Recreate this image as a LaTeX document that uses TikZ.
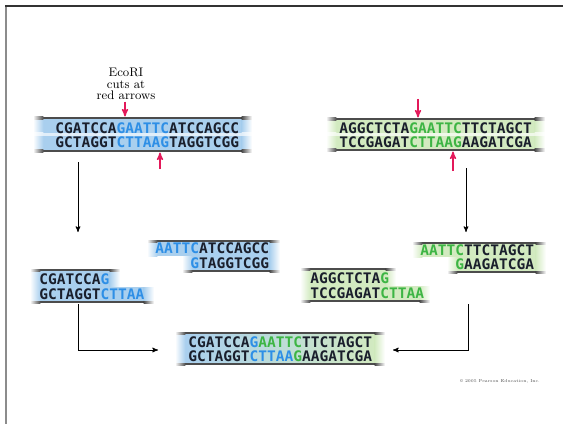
\documentclass[tikz,border=0pt]{standalone}
\usepackage{fontspec}
\newfontfamily\dnafont{DejaVu Sans Mono}
\usetikzlibrary{arrows}
\definecolor{dnaink}{HTML}{1A1F2C}
\definecolor{siteblue}{HTML}{2E8FE6}
\definecolor{sitegreen}{HTML}{3DB544}
\definecolor{bandblue}{HTML}{A9CFEE}
\definecolor{bandgreen}{HTML}{D2EAC0}
\definecolor{cutred}{HTML}{E3195A}
\tikzset{
%Define standard arrow tip
>=stealth',
%Define style for the strands and the arrows
strand/.style={inner sep=0pt, font=\dnafont\bfseries\fontsize{10.9}{10.9}\selectfont, text=dnaink},
cut arrow/.style={->, cutred, line width=1pt},
step arrow/.style={->, black, line width=0.6pt},
}
\newcommand{\siteb}[1]{\textcolor{siteblue}{#1}}
\newcommand{\siteg}[1]{\textcolor{sitegreen}{#1}}
% bar with faded ends: x1, x2, y1, y2, colour
\newcommand{\fadebar}[5]{%
  \fill[#5] ({#1+10},{#3}) rectangle ({#2-10},{#4});
  \shade[left color=white, right color=#5] ({#1},{#3}) rectangle ({#1+10.3},{#4});
  \shade[left color=#5, right color=white] ({#2-10.3},{#3}) rectangle ({#2},{#4});
}
% whole double strand band: x1, x2, y1, y2, colour
\newcommand{\dnaband}[5]{%
  \fadebar{#1}{#2}{#3}{#4}{#5}
  \fadebar{#1}{#2}{(#3+#4)/2-1.5}{(#3+#4)/2+1.5}{#5!35!white}
  \fadebar{#1}{#2}{#3-1}{#3+1.2}{black!70}
  \fadebar{#1}{#2}{#4-1.2}{#4+1}{black!70}
}

\begin{document}
\begin{tikzpicture}[x=0.75pt, y=-0.75pt]
    \useasboundingbox (0,0) rectangle (563,424);

    % frame
    \draw[black!45, line width=1.5pt] (5.5,424) -- (5.5,6);
    \draw[black!80, line width=1.2pt] (5,6) -- (563,6);

    % bands
    \dnaband{33}{252}{118}{151}{bandblue}
    \dnaband{326}{545}{119}{150}{bandgreen}

    % blue fragments
    \fadebar{147}{280}{241}{256}{bandblue}
    \fadebar{182}{280}{256}{271}{bandblue}
    \fadebar{147}{280}{240}{242.2}{black!70}
    \fadebar{182}{280}{270}{272.2}{black!70}
    \fadebar{30}{120}{270}{287}{bandblue}
    \fadebar{30}{154}{287}{302}{bandblue}
    \fadebar{30}{120}{269}{271.2}{black!70}
    \fadebar{30}{154}{301}{303.2}{black!70}

    % green fragments
    \fadebar{412}{546}{243}{257}{bandgreen}
    \fadebar{447}{546}{257}{272}{bandgreen}
    \fadebar{412}{546}{242}{244.2}{black!70}
    \fadebar{447}{546}{271}{273.2}{black!70}
    \fadebar{300}{396}{269}{286}{bandgreen}
    \fadebar{300}{430}{286}{301}{bandgreen}
    \fadebar{300}{396}{268}{270.2}{black!70}
    \fadebar{300}{430}{300}{302.2}{black!70}

    % recombinant band
    \shade[left color=bandblue, right color=bandgreen] (185,333) rectangle (375,364);
    \shade[left color=white, right color=bandblue] (175,333) rectangle (185.3,364);
    \shade[left color=bandgreen, right color=white] (374.7,333) rectangle (385,364);
    \fadebar{175}{385}{332}{334.2}{black!70}
    \fadebar{175}{385}{363}{365.2}{black!70}

    % original strands
    \node[strand, anchor=west] (blueTop) at (55,128) {CGATCCA\siteb{GAATTC}ATCCAGCC};
    \node[strand, anchor=west] (blueBot) at (55,142) {GCTAGGT\siteb{CTTAAG}TAGGTCGG};
    \node[strand, anchor=west] (greenTop) at (339,128) {AGGCTCTA\siteg{GAATTC}TTCTAGCT};
    \node[strand, anchor=west] (greenBot) at (339,142) {TCCGAGAT\siteg{CTTAAG}AAGATCGA};

    % fragments
    \node[strand, anchor=west] (bRtop) at (155,248) {\siteb{AATTC}ATCCAGCC};
    \node[strand, anchor=east] (bRbot) at (bRtop.east |- 0,263) {\siteb{G}TAGGTCGG};
    \node[strand, anchor=west] (bLtop) at (39,279) {CGATCCA\siteb{G}};
    \node[strand, anchor=west] (bLbot) at (39,294) {GCTAGGT\siteb{CTTAA}};
    \node[strand, anchor=west] (gRtop) at (420,250) {\siteg{AATTC}TTCTAGCT};
    \node[strand, anchor=east] (gRbot) at (gRtop.east |- 0,264) {\siteg{G}AAGATCGA};
    \node[strand, anchor=west] (gLtop) at (310,278) {AGGCTCTA\siteg{G}};
    \node[strand, anchor=west] (gLbot) at (310,293) {TCCGAGAT\siteg{CTTAA}};

    % recombinant
    \node[strand, anchor=west] (recTop) at (188,342) {CGATCCA\siteb{G}\siteg{AATTC}TTCTAGCT};
    \node[strand, anchor=west] (recBot) at (188,356) {GCTAGGT\siteb{CTTAA}\siteg{G}AAGATCGA};

    % note
    \node[align=center, font=\fontsize{9.3}{8.7}\selectfont, inner sep=1pt] (note) at (126,84) {EcoRI\\cuts at\\red arrows};

    % red arrows
    \coordinate (cutA) at (125,116.5);
    \coordinate (cutB) at (160,152.5);
    \coordinate (cutC) at (418,117.5);
    \coordinate (cutD) at (453,151.5);
    \draw[cut arrow] (note.south -| cutA) -- (cutA);
    \draw[cut arrow] (160,169) -- (cutB);
    \draw[cut arrow] (418,99) -- (cutC);
    \draw[cut arrow] (453,171) -- (cutD);

    % black arrows
    \coordinate (downA) at (78,162);
    \coordinate (downB) at (466,168);
    \draw[step arrow] (downA) -- (78,232);
    \draw[step arrow] (downB) -- (466,232);
    \coordinate (joinA) at (78,304);
    \coordinate (joinB) at (468,304);
    \draw[step arrow] (joinA) |- (158,350);
    \draw[step arrow] (joinB) |- (393,350);

    % credit
    \node[font=\fontsize{3.2}{4}\selectfont, text=black!70] (credit) at (500,381) {\copyright\ 2005 Pearson Education, Inc.};
\end{tikzpicture}
\end{document}
